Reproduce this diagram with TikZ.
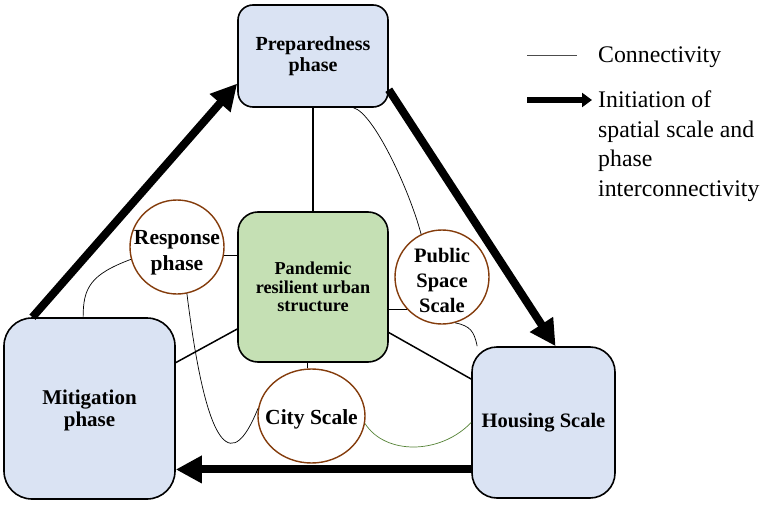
\documentclass[tikz,border=0pt]{standalone}
\usepackage{fontspec}
\setmainfont{Liberation Serif}
\usetikzlibrary{arrows.meta,shapes.geometric}
\definecolor{phaseblue}{HTML}{DAE3F3}
\definecolor{coregreen}{HTML}{C5E0B4}
\definecolor{ringbrown}{HTML}{843C0C}
\definecolor{linkgreen}{HTML}{548235}
\begin{document}
\begin{tikzpicture}[x=1pt,y=-1pt,
 box/.style={draw,line width=1.6pt,fill=phaseblue,align=center},
 ring/.style={draw=ringbrown,line width=1.4pt,fill=white,inner sep=0pt},
 tag/.style={align=center,inner sep=0pt},
 link/.style={line width=1.5pt},
 curl/.style={line width=0.7pt},
 push/.style={line width=8pt,-{Triangle[length=26pt,width=26pt]}}]
\useasboundingbox (0,0) rectangle (765,505);
\node[box,minimum width=150pt,minimum height=102pt,rounded corners=15pt,font=\bfseries\fontsize{20}{21}\selectfont] (prep) at (313,56) {Preparedness\\phase};
\node[box,fill=coregreen,minimum width=150pt,minimum height=150pt,rounded corners=20pt,font=\bfseries\fontsize{18.2}{18.6}\selectfont] (core) at (313,287) {Pandemic\\resilient urban\\structure};
\node[box,minimum width=171pt,minimum height=181pt,rounded corners=28pt] (mitig) at (89.5,408.5) {};
\node[box,minimum width=143pt,minimum height=151pt,rounded corners=25pt,font=\bfseries\fontsize{20.5}{22}\selectfont] (house) at (543.5,422.5) {Housing Scale};
\node[tag,font=\bfseries\fontsize{21}{22}\selectfont] (mitigtag) at ([yshift=-2pt]mitig.center) {Mitigation\\phase};
\node[ring,circle,minimum size=94pt] (resp) at (177,247) {};
\node[ring,circle,minimum size=94pt] (public) at (442,277) {};
\node[ring,ellipse,minimum width=107pt,minimum height=94pt] (city) at (311.5,416) {};
\node[tag,font=\bfseries\fontsize{21.5}{26}\selectfont] (resptag) at ([yshift=-6pt]resp.center) {Response\\phase};
\node[tag,font=\bfseries\fontsize{20.5}{25}\selectfont] (publictag) at ([yshift=-3pt]public.center) {Public\\Space\\Scale};
\node[tag,font=\bfseries\fontsize{21.5}{24}\selectfont] (citytag) at ([yshift=-3pt]city.center) {City Scale};
\draw[link] (prep.south) -- (core.north);
\draw[link] (core.209) -- (mitig.28);
\draw[link] (core.-31) -- (house.149);
\draw[link] (resp.-10) -- (resp.-10 -| core.west);
\draw[link] (public.223) -- (public.223 -| core.east);
\draw[link] (city.95) -- (city.95 |- core.south);
\draw[curl] (prep.-52) .. controls +(20,5) and +(-12,-45) .. (public.116);
\draw[curl] (public.-74) .. controls +(15,3) and +(-3,-15) .. (house.131);
\draw[curl] (resp.195) .. controls +(-40,15) and +(0,-30) .. (mitig.94);
\draw[curl] (resp.-78) .. controls (212,495) and (242,448) .. (city.172);
\draw[curl,linkgreen] (city.-8) .. controls (385,455) and (440,455) .. (house.west);
\draw[push] (mitig.122.5) -- (prep.200);
\draw[push] (prep.-24) -- (house.81);
\draw[push] (house.213.6) -- (house.213.6 -| mitig.east);
\coordinate (conA) at (527,55);
\coordinate (conB) at (577,55);
\draw[curl,gray!60!black] (conA) -- (conB);
\node[anchor=west,inner sep=0pt,font=\fontsize{23.8}{29.5}\selectfont] (conn) at (598,57) {Connectivity};
\coordinate (iniA) at (527,100);
\coordinate (iniB) at (592,100);
\draw[line width=6pt,-{Triangle[length=10pt,width=14pt]}] (iniA) -- (iniB);
\node[anchor=north west,inner sep=0pt,align=left,font=\fontsize{23.8}{29.5}\selectfont] (init) at (598,91) {Initiation of\\spatial scale and\\phase\\interconnectivity};
\end{tikzpicture}
\end{document}
